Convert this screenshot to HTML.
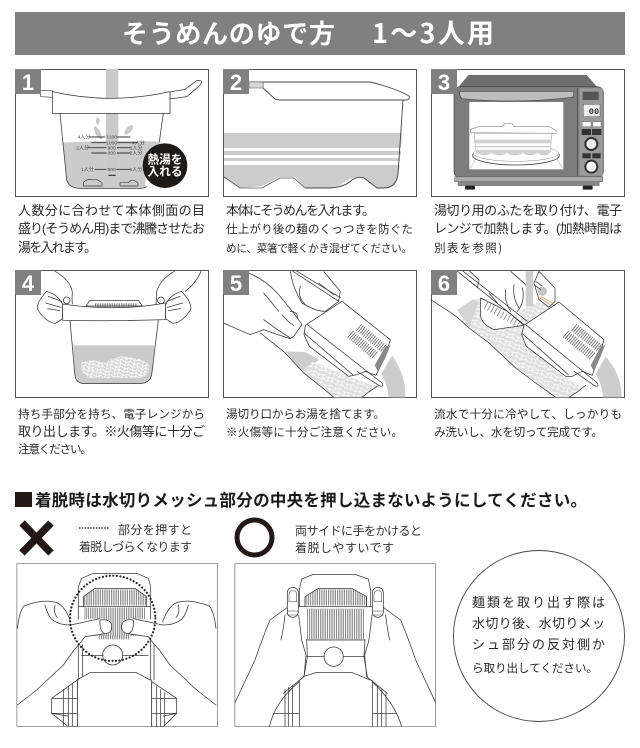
<!DOCTYPE html>
<html lang="ja"><head><meta charset="utf-8"><title>そうめんのゆで方</title>
<style>
html,body{margin:0;padding:0;background:#fff;width:640px;height:748px;overflow:hidden}
svg{display:block;filter:blur(.35px)}
text{font-family:"Liberation Sans","Noto Sans CJK JP",sans-serif}
.t{font-size:13px;fill:#2b2b2b;font-family:"Noto Sans CJK JP",sans-serif}
.c{font-size:11.6px}
.s{font-size:12px;fill:#333;font-family:"Noto Sans CJK JP",sans-serif}
.n{font-size:22px;font-weight:bold;fill:#fff;text-anchor:middle;font-family:"Liberation Sans",sans-serif}
.f{fill:#fff;stroke:#444;stroke-width:.9}
.b{fill:#808080}
.l{fill:none;stroke:#3a3a3a;stroke-width:2.3;stroke-linejoin:round;stroke-linecap:round}
.w{fill:#fff;stroke:#3a3a3a;stroke-width:2.3;stroke-linejoin:round}
.m{font-size:15px;fill:#444;font-family:"Noto Sans CJK JP",sans-serif}
</style></head><body>
<svg xmlns="http://www.w3.org/2000/svg" width="640" height="748" viewBox="0 0 640 748">
<defs>
<pattern id="nd" width="30" height="24" patternUnits="userSpaceOnUse" patternTransform="rotate(20)">
<rect width="30" height="24" fill="#dedede"/>
<path d="M0 7Q8 0 15 6T30 5M0 18Q8 11 15 17T30 16M7 5Q3 13 9 22M22 3Q26 12 20 22" fill="none" stroke="#fff" stroke-width="2"/>
</pattern>
<pattern id="nw" width="26" height="20" patternUnits="userSpaceOnUse" patternTransform="rotate(12)">
<rect width="26" height="20" fill="#d4d4d4"/>
<path d="M0 5Q6 -1 13 5T26 5M0 15Q6 9 13 15T26 15M5 3Q1 10 7 19M18 1Q23 9 17 19" fill="none" stroke="#fff" stroke-width="2.6"/>
</pattern>
<clipPath id="c5"><rect x="5" y="8" width="580" height="380"/></clipPath>
<clipPath id="c6"><rect x="5" y="8" width="580" height="380"/></clipPath>
<clipPath id="cb1"><rect x="50" y="250" width="603" height="490"/></clipPath>
<clipPath id="cb2"><rect x="44" y="250" width="603" height="490"/></clipPath>
</defs>

<!-- header -->
<rect x="15" y="12" width="610" height="43" fill="#808080"/>
<text x="122" y="43" font-size="26" font-weight="bold" fill="#fff" textLength="213" style="font-family:'Noto Sans CJK JP',sans-serif">そうめんのゆで方</text>
<text x="372" y="43" font-size="27" font-weight="bold" fill="#fff" textLength="122" style="font-family:'Noto Sans CJK JP',sans-serif">1〜3人用</text>

<!-- frames -->
<rect class="f" x="15.5" y="69.5" width="193" height="127"/>
<rect class="f" x="223.5" y="69.5" width="193" height="127"/>
<rect class="f" x="431.5" y="69.5" width="193" height="127"/>
<rect class="f" x="15.5" y="270.5" width="193" height="127"/>
<rect class="f" x="223.5" y="270.5" width="193" height="127"/>
<rect class="f" x="431.5" y="270.5" width="193" height="127"/>

<!-- panel 1 -->
<g transform="scale(.33333)">
<path d="M190 428Q330 420 480 425L478 442L440 470L435 565L240 565Q205 565 198 530Z" fill="#cbcbcb"/>
<rect x="318" y="207" width="37" height="300" fill="#c9c9c9"/>
<path d="M290 350q16 12 6 22q-12 4 -6 -22zM282 378q22 8 24 40q-24 -8 -24 -40zM372 405q4 -30 26 -30q4 24 -26 30z" fill="#c9c9c9"/>
<path class="w" d="M122 272L157 272L157 292L122 290Z" style="stroke-width:2"/>
<path class="w" d="M510 276L555 268L590 242Q612 238 600 256L560 290L510 297Z"/>
<path class="w" d="M157 275Q330 315 510 275L510 340L157 340Z"/>
<path class="l" d="M180 340L200 540Q208 565 240 565L420 565Q432 565 440 560M490 340L478 425"/>
<g class="l" style="stroke-width:2.8;stroke:#333">
<path d="M270 411H315M352 411H390M275 428H318M352 428H412M265 443H318M352 443H390M275 459H318M352 459H390M285 508H318M350 508H390"/>
</g>
<g class="m" text-anchor="middle">
<text x="335" y="416">1100</text><text x="335" y="433">1000</text><text x="335" y="448">900</text><text x="335" y="464">800</text><text x="335" y="513">500</text>
<text x="252" y="416">4人分</text><text x="248" y="448">2人分</text><text x="262" y="513">1人分</text>
<text x="415" y="433">4人分</text><text x="408" y="448">3人分</text><text x="408" y="464">2人分</text><text x="408" y="513">1人分</text>
</g>
<path d="M325 526H347" stroke="#222" stroke-width="3"/>
<path class="l" d="M250 558V548Q262 534 278 540Q292 534 306 550V558ZM360 558V548H385Q398 532 414 550V558Z" style="stroke-width:2"/>
<circle cx="495" cy="497" r="67" fill="#1e1a18"/>
<text x="495" y="490" font-size="35" font-weight="bold" fill="#fff" text-anchor="middle" style="font-family:'Noto Sans CJK JP',sans-serif">熱湯を</text>
<text x="495" y="526" font-size="35" font-weight="bold" fill="#fff" text-anchor="middle" style="font-family:'Noto Sans CJK JP',sans-serif">入れる</text>
</g>
<rect class="b" x="15" y="69" width="26" height="25"/><text class="n" x="28" y="90">1</text>

<!-- panel 2 -->
<g>
<path d="M224 133H402L401 148H224ZM224 151H401V155H224ZM224 158H400V161H224ZM224 165H400L398 174Q396 188 382 188H377L363 177Q352 176 340 185L330 188H305L295 177H280L262 186L240 188L224 177Z" fill="#cccccc"/>
<path d="M224 177L240 188H262L280 178H294L305 188" fill="none" stroke="#555" stroke-width=".8"/>
<path d="M305 188H330Q345 187 352 180Q358 176 364 178L377 188H384Q396 188 398 174L403 100" fill="none" stroke="#444" stroke-width=".9"/>
<path d="M249 82H263V87L263 88L275 99Q277 100 280 100H407Q410 99 409 96Q395 88 370 82H263" fill="#fff" stroke="#444" stroke-width=".9" stroke-linejoin="round"/>
<rect x="249" y="82" width="14" height="6" fill="#d8d8d8" stroke="#666" stroke-width=".6"/>
</g>
<rect class="b" x="223" y="69" width="26" height="25"/><text class="n" x="236" y="90">2</text>

<!-- panel 3 oven -->
<g transform="translate(450 70) scale(.33333)">
<path d="M22 55L55 15H410L445 55Z" fill="#6f6f6f"/>
<rect x="12" y="50" width="448" height="272" rx="18" fill="#7c7c7c" stroke="#444" stroke-width="2"/>
<rect x="388" y="55" width="70" height="262" fill="#9a9a9a"/>
<path d="M383 55V318" stroke="#444" stroke-width="2"/>
<path d="M30 64H370Q374 72 368 82Q200 102 36 86Q26 76 30 64Z" fill="#bdbdbd" stroke="#444" stroke-width="2"/>
<rect x="58" y="96" width="282" height="202" fill="#fff"/>
<path d="M60 296L86 252M338 296L312 252M86 252H312" stroke="#ccc" stroke-width="2.5" fill="none"/>
<ellipse cx="198" cy="256" rx="130" ry="29" fill="#fff" stroke="#444" stroke-width="2.5"/>
<ellipse cx="198" cy="250" rx="128" ry="24" fill="#fff" stroke="#888" stroke-width="1.5"/>
<path d="M72 190H306L300 248Q285 262 262 248Q240 262 218 248Q195 262 170 248Q148 262 125 248Q100 262 78 245Z" fill="#fff" stroke="#999" stroke-width="1.5"/>
<path d="M72 209H305V220H72ZM73 228H304V232H73ZM74 240H302V247Q285 260 262 246Q240 260 218 246Q195 260 170 246Q148 260 125 246Q100 260 76 243Z" fill="#d2d2d2"/>
<path d="M62 188V178L85 170H158L165 160H186L192 170H298L318 182V190Z" fill="#fff" stroke="#888" stroke-width="1.8" stroke-linejoin="round"/>
<rect x="398" y="65" width="48" height="25" fill="#555"/>
<rect x="400" y="103" width="50" height="37" fill="#eee" stroke="#555" stroke-width="1.5"/>
<text x="432" y="132" font-size="26" font-weight="bold" fill="#333" text-anchor="middle" style="font-family:'Liberation Mono',monospace">00</text>
<rect x="397" y="155" width="26" height="15" fill="#fff" stroke="#444" stroke-width="1"/>
<rect x="428" y="155" width="25" height="15" fill="#fff" stroke="#444" stroke-width="1"/>
<rect x="395" y="177" width="28" height="18" fill="#333"/><rect x="426" y="177" width="28" height="18" fill="#333"/>
<circle cx="424" cy="222" r="18" fill="#eee" stroke="#333" stroke-width="6"/>
<rect x="397" y="250" width="25" height="15" fill="#333"/><rect x="427" y="250" width="25" height="15" fill="#333"/>
<circle cx="424" cy="290" r="18" fill="#fff" stroke="#333" stroke-width="6"/>
<rect x="14" y="320" width="444" height="15" fill="#aaa" stroke="#555" stroke-width="1.5"/>
<rect x="24" y="335" width="424" height="12" fill="#888" stroke="#555" stroke-width="1"/>
<rect x="45" y="347" width="30" height="12" rx="4" fill="#222"/><rect x="398" y="347" width="30" height="12" rx="4" fill="#222"/>
</g>
<rect class="b" x="431" y="69" width="26" height="25"/><text class="n" x="444" y="90">3</text>

<!-- panel 4 -->
<g transform="translate(15 268) scale(.33333)">
<path d="M175 232H418L410 320Q405 347 370 347H210Q185 347 180 325Z" fill="#cbcbcb"/>
<path d="M198 285Q225 270 270 285Q310 258 345 268Q385 272 402 290Q405 320 380 330H225Q195 322 198 285Z" fill="url(#nw)"/>
<path class="l" d="M165 157L180 325Q185 347 210 347H370Q405 347 410 320L430 157"/>
<path class="w" d="M213 114L225 97H370L382 114Z"/>
<path d="M240 112H366" stroke="#555" stroke-width="12" stroke-dasharray="2.2 3" fill="none"/>
<path class="l" d="M120 10Q165 35 172 72Q170 90 172 108"/>
<path class="w" d="M95 70Q62 105 68 125Q95 165 122 166L143 152V110Q130 80 95 70Z"/>
<path class="l" d="M100 85L140 100M92 105L138 118M98 122L135 128"/>
<circle cx="155" cy="97" r="10" class="w"/>
<path class="w" d="M143 108Q300 132 452 105L452 155Q300 160 143 157Z"/>
<path class="l" d="M478 10Q432 38 425 72Q425 90 423 108M558 10Q540 50 510 70"/>
<path class="w" d="M500 70Q532 105 527 125Q500 165 473 166L452 152V110Q465 80 500 70Z"/>
<path class="l" d="M495 85L455 100M503 105L457 118M497 122L460 128"/>
<circle cx="438" cy="97" r="10" class="w"/>
</g>
<rect class="b" x="15" y="270" width="26" height="25"/><text class="n" x="28" y="291">4</text>

<!-- panel 5 -->
<g transform="translate(222 268) scale(.33333)" clip-path="url(#c5)">
<path d="M510 262Q552 320 550 388H500Q495 345 478 318Z" fill="#cdcdcd"/>
<path d="M190 250L250 252L292 275L240 312Z" fill="#cdcdcd"/>
<path d="M240 312L272 280L430 345L470 355L440 372L420 388H335L300 358Z" fill="url(#nd)"/>
<path class="l" d="M115 195L165 235L190 255L245 315L300 358L335 388M420 388L440 372L470 352"/>
<path class="w" d="M80 15Q130 35 170 80L215 135L240 170L215 205L205 212Q180 205 125 185L85 200L50 185L5 165"/>
<path class="l" d="M125 75Q150 105 170 130M125 155Q165 185 205 210M180 140Q195 160 215 172M205 130Q225 130 228 150"/>
<path class="w" d="M205 10Q212 60 240 105Q280 130 310 130L350 100L355 70L305 10"/>
<path class="l" d="M235 55Q225 85 250 110M290 45L335 80"/>
<path d="M210 8L350 100M222 8L356 90" fill="none" stroke="#3a3a3a" stroke-width="2.2"/>
<path class="w" d="M250 172L360 100L505 215L490 265L462 322L430 310L405 320L380 325L262 235L246 200Z"/>
<path class="l" d="M256 170L480 345Q488 360 470 352L405 310M246 195L392 320"/>
<path d="M410 178L488 243" stroke="#555" stroke-width="26" stroke-dasharray="2.2 4.6" fill="none"/>
<path d="M385 198L462 265" stroke="#555" stroke-width="26" stroke-dasharray="2.2 4.6" fill="none"/>
<path d="M505 232L492 265L468 310L458 292L490 235Z" fill="#888"/>
</g>
<rect class="b" x="223" y="270" width="26" height="25"/><text class="n" x="236" y="291">5</text>

<!-- panel 6 -->
<g transform="translate(429 268) scale(.33333)" clip-path="url(#c6)">
<path d="M530 265Q578 320 578 388H522Q518 345 500 318Z" fill="#cdcdcd"/>
<path d="M85 125L130 95L170 90L300 170L280 175L290 230L410 330L445 345L460 360L420 388H375L320 345L260 300L180 225L120 180Z" fill="url(#nd)"/>
<path d="M85 125L130 95L150 100L120 180Z" fill="#d4d4d4"/>
<path d="M270 130L330 100L362 118L305 155L280 170Z" fill="url(#nd)"/>
<rect x="290" y="10" width="22" height="105" fill="#cdcdcd"/>
<path class="l" d="M5 95L60 130L85 148L120 180L180 225L260 300L320 345L380 388M420 388L445 372L470 352"/>
<path class="w" d="M155 90L235 130L285 172L195 185Q160 170 155 145Z"/>
<path d="M170 112L272 170" stroke="#555" stroke-width="22" stroke-dasharray="2.2 9" fill="none" opacity=".8"/>
<path d="M85 10L285 170M100 8L295 160" fill="none" stroke="#3a3a3a" stroke-width="2.2"/>
<path class="l" d="M122 10L150 35L145 60M180 75L205 105M230 65Q225 100 245 130M255 50Q250 90 270 120M245 10L290 50M265 130Q290 100 280 60"/>
<path class="w" d="M330 10L378 60L378 100L360 118L330 95L315 45Z"/>
<circle cx="340" cy="70" r="14" fill="#c4c4c4"/>
<path d="M325 85L365 110M335 85L375 108" stroke="#d2b48c" stroke-width="3"/>
<path d="M315 50L335 65M320 40L340 55" stroke="#3a3a3a" stroke-width="2.2"/>
<path class="w" d="M285 172L390 102L525 215L510 265L490 322L460 310L430 325L410 325L292 235L278 200Z"/>
<path class="l" d="M290 170L505 345Q512 360 495 352L435 310M278 195L418 320"/>
<path d="M435 178L515 243" stroke="#555" stroke-width="26" stroke-dasharray="2.2 4.6" fill="none"/>
<path d="M410 198L490 265" stroke="#555" stroke-width="26" stroke-dasharray="2.2 4.6" fill="none"/>
<path d="M528 232L515 265L495 310L485 292L515 235Z" fill="#888"/>
</g>
<rect class="b" x="431" y="270" width="26" height="25"/><text class="n" x="444" y="291">6</text>

<!-- captions -->
<g class="t">
<text x="18" y="215" textLength="187">人数分に合わせて本体側面の目</text>
<text x="18" y="233" textLength="187">盛り(そうめん用)まで沸騰させたお</text>
<text x="18" y="252" textLength="79">湯を入れます。</text>
<text x="226" y="215" textLength="149">本体にそうめんを入れます。</text>
<text x="226" y="233" textLength="187" class="t c">仕上がり後の麺のくっつきを防ぐた</text>
<text x="226" y="252" textLength="186" class="t" style="font-size:10.6px">めに、菜箸で軽くかき混ぜてください。</text>
<text x="434" y="215" textLength="188">湯切り用のふたを取り付け、電子</text>
<text x="434" y="233" textLength="188">レンジで加熱します。(加熱時間は</text>
<text x="434" y="252" textLength="68" class="t c">別表を参照)</text>
<text x="18" y="418" textLength="187" class="t c">持ち手部分を持ち、電子レンジから</text>
<text x="18" y="436" textLength="187">取り出します。※火傷等に十分ご</text>
<text x="18" y="453" textLength="74" class="t c">注意ください。</text>
<text x="226" y="418" textLength="159" class="t c">湯切り口からお湯を捨てます。</text>
<text x="226" y="436" textLength="177" class="t c">※火傷等に十分ご注意ください。</text>
<text x="434" y="418" textLength="188" class="t c">流水で十分に冷やして、しっかりも</text>
<text x="434" y="436" textLength="169" class="t c">み洗いし、水を切って完成です。</text>
</g>

<!-- warning heading -->
<rect x="15" y="492" width="17" height="15" fill="#231815"/>
<text x="35" y="506" font-size="16.5" font-weight="bold" fill="#1a1a1a" textLength="552" style="font-family:'Noto Sans CJK JP',sans-serif">着脱時は水切りメッシュ部分の中央を押し込まないようにしてください。</text>

<path d="M22 523L51 553M51 523L22 553" stroke="#231815" stroke-width="7.5"/>
<circle cx="254.5" cy="537.5" r="17.5" fill="none" stroke="#231815" stroke-width="5"/>
<path d="M79 528H110" stroke="#333" stroke-width="1.6" stroke-dasharray="1.4 1.4"/>
<g class="s">
<text x="118" y="534" textLength="74">部分を押すと</text>
<text x="79" y="551" textLength="113">着脱しづらくなります</text>
<text x="295" y="535" textLength="127">両サイドに手をかけると</text>
<text x="295" y="552" textLength="99">着脱しやすいです</text>
</g>

<!-- bottom box 1 -->
<g transform="translate(0 480) scale(.33333)" clip-path="url(#cb1)">
<rect x="50" y="250" width="603" height="490" fill="#fff"/>
<path d="M235 320L245 295L280 280L410 280L445 295L452 320V500M235 320V500" class="l"/>
<path d="M252 352H438" stroke="#666" stroke-width="48" stroke-dasharray="2.2 3.2" fill="none"/>
<path d="M248 323H285L250 350ZM442 323H405L440 350Z" fill="#fff"/>
<path d="M254 425H436" stroke="#666" stroke-width="85" stroke-dasharray="2.2 3.2" fill="none"/>
<path d="M298 472H390" stroke="#666" stroke-width="12" stroke-dasharray="2.2 3.2" fill="none"/>
<path class="l" d="M250 378V350L285 325H405L440 350V378M235 380H452"/>
<path class="l" d="M235 495V600M248 495V590M452 495V600M462 495V600M245 527H310M368 527H445M230 600L270 578H410L450 600M232 600V740M455 600V740"/>
<circle cx="338" cy="525" r="30" class="l"/>
<path class="w" d="M232 600L155 655V700L205 740H232ZM455 605L530 655V700L490 740H455Z"/>
<path class="l" d="M190 628V740M205 618V740M217 610V740M155 655H232M155 700H232M470 618V740M482 628V740M494 638V740M455 655H530M455 700H530M155 700L205 708M530 700L490 708"/>
<g id="h1">
<path class="w" d="M52 440Q60 385 75 378Q130 355 170 368Q195 378 212 420L300 415L330 420Q340 440 325 458L255 470L240 490L205 545L215 555L52 675V500Z" style="stroke:none"/>
<path class="l" d="M52 445Q58 395 72 378Q130 355 170 368Q195 378 212 425M135 375Q140 395 150 412M165 375Q160 400 172 412M150 412Q170 435 212 435L300 416M310 462L255 470L240 490L222 510L190 555L110 630L52 675"/>
<path class="w" d="M300 420Q335 415 335 440Q335 462 312 460Q298 452 300 420Z"/>
</g>
<use href="#h1" transform="translate(700 0) scale(-1 1)"/>
<circle cx="338" cy="415" r="128" fill="none" stroke="#222" stroke-width="6.5" stroke-linecap="round" stroke-dasharray="0.1 10.5"/>
<rect x="50" y="250" width="603" height="490" fill="none" stroke="#333" stroke-width="3"/>
</g>

<!-- bottom box 2 -->
<g transform="translate(220 480) scale(.33333)" clip-path="url(#cb2)">
<rect x="44" y="250" width="603" height="490" fill="#fff"/>
<g id="h2">
<path class="l" d="M205 380L150 420Q125 480 105 540L44 670"/>
<path class="l" d="M195 405Q190 450 183 480"/>
<path class="l" d="M236 405L245 480L258 525L252 590L190 640"/>
<rect x="202" y="322" width="33" height="90" rx="16" class="w"/>
<path class="l" d="M207 345Q207 332 218 332Q230 332 230 345V365H207ZM203 393H234M203 405H234" style="stroke-width:1.6"/>
</g>
<use href="#h2" transform="translate(692 0) scale(-1 1)"/>
<path class="l" d="M238 378V330L245 297L280 283H405L445 297L452 330V378M260 478L262 530L252 590M435 478L432 530L442 590"/>
<path d="M254 352H440" stroke="#666" stroke-width="48" stroke-dasharray="2.2 3.2" fill="none"/>
<path d="M252 323H295L252 352ZM442 323H395L440 352Z" fill="#fff"/>
<path d="M262 432H434" stroke="#666" stroke-width="92" stroke-dasharray="2.2 3.2" fill="none"/>
<path class="l" d="M255 378V350L295 325H395L440 350V378M235 380H456M262 480H435"/>
<circle cx="341" cy="530" r="29" class="l"/>
<path class="l" d="M260 530H312M370 530H432M250 590L290 577H395L450 600M238 600V740M457 600V740"/>
<path class="l" d="M148 740Q165 665 238 605M545 740Q525 670 457 605M195 628V740M205 622V740M218 615V740M472 622V740M485 628V740M498 640V740M160 700H238M457 700H530"/>
<rect x="44" y="250" width="603" height="490" fill="none" stroke="#333" stroke-width="3"/>
</g>

<!-- note circle -->
<circle cx="539" cy="636" r="85.5" fill="#fff" stroke="#444" stroke-width=".9"/>
<g class="t">
<text x="472" y="607" textLength="133">麺類を取り出す際は</text>
<text x="472" y="628" textLength="133">水切り後、水切りメッ</text>
<text x="472" y="649" textLength="133">シュ部分の反対側か</text>
<text x="472" y="672" textLength="126" class="t c">ら取り出してください。</text>
</g>
</svg>
</body></html>
